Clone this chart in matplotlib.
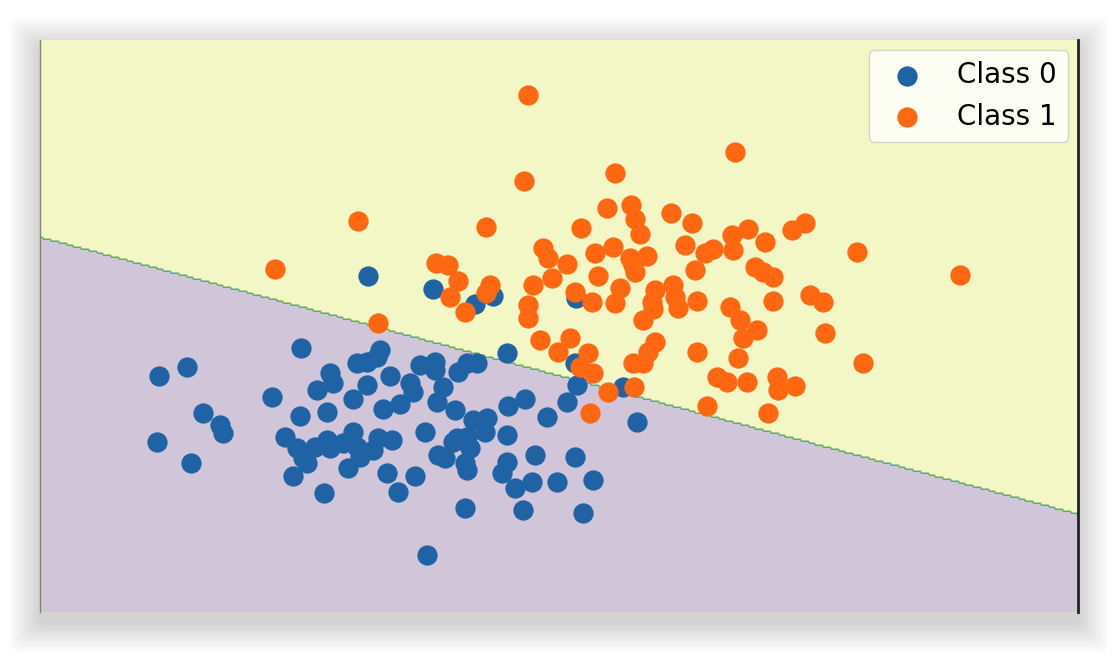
import numpy as np
import matplotlib
matplotlib.use("Agg")
import matplotlib.pyplot as plt
from matplotlib.patches import FancyBboxPatch

# points (data units)
class0_x = [3.68, 4.33, 4.75, 4.93, 5.76, 3.01, 1.59, 1.87, 2.72, 3.30, 3.33, 3.17,
            3.57, 3.67, 3.80, 3.77, 3.53, 3.67, 3.90, 4.10, 4.13, 4.00, 4.20, 3.83,
            3.27, 3.00, 2.03, 2.20, 2.23, 1.57, 1.91, 2.85, 2.97, 3.03, 3.07, 3.15,
            3.27, 3.30, 3.43, 3.53, 3.57, 3.60, 3.48, 3.78, 3.92, 3.73, 3.87, 4.15,
            3.98, 2.93, 3.24, 4.25, 4.27, 4.35, 4.35, 4.67, 4.77, 4.58, 4.43, 4.37,
            4.55, 4.73, 4.87, 4.85, 4.67, 4.57, 4.70, 4.53, 4.38, 4.45, 4.65, 4.67,
            5.07, 5.07, 5.02, 5.35, 5.15, 5.32, 5.57, 5.75, 5.93, 4.65, 5.23, 5.83,
            5.07, 5.77, 5.67, 6.37, 5.47, 5.25, 5.08, 6.23, 5.75]
class0_y = [3.76, 3.63, 3.48, 3.56, 3.54, 3.04, 2.76, 2.85, 2.55, 2.79, 2.69, 2.62,
            2.89, 2.90, 3.02, 2.95, 2.53, 2.67, 2.76, 2.69, 2.60, 2.48, 2.87, 2.43,
            2.40, 2.36, 2.39, 2.27, 2.19, 2.10, 1.89, 2.15, 2.04, 1.94, 1.89, 2.05,
            2.12, 2.04, 2.09, 2.20, 2.05, 1.95, 1.84, 2.14, 2.12, 2.02, 1.79, 1.76,
            1.60, 1.76, 1.59, 2.20, 0.97, 2.90, 2.82, 2.89, 2.89, 2.80, 2.65, 2.50,
            2.42, 2.32, 2.34, 2.20, 2.15, 2.14, 2.04, 2.10, 1.97, 1.94, 1.89, 1.82,
            2.17, 1.90, 1.79, 1.97, 1.64, 1.70, 1.70, 1.95, 1.72, 1.44, 1.42, 1.39,
            2.99, 2.67, 2.50, 2.30, 2.35, 2.53, 2.46, 2.65, 2.89]

class1_x = [5.28, 7.35, 6.15, 5.24, 3.58, 4.86, 6.07, 6.31, 6.35, 6.40, 6.71, 6.92,
            5.81, 2.75, 4.36, 4.48, 4.58, 4.90, 4.86, 4.50, 4.65, 3.78, 5.43, 5.48,
            5.67, 5.52, 5.95, 6.13, 6.30, 6.33, 6.35, 6.47, 5.98, 5.75, 5.92, 6.20,
            6.15, 6.55, 6.52, 6.73, 6.75, 6.97, 6.85, 7.05, 7.13, 6.95, 7.32, 7.33,
            7.48, 7.65, 7.55, 7.63, 7.73, 7.92, 8.05, 8.57, 7.73, 8.10, 8.23, 7.30,
            9.60, 6.53, 6.78, 6.43, 7.40, 7.57, 7.43, 8.25, 6.55, 6.48, 6.43, 6.33,
            6.97, 7.38, 8.63, 7.17, 7.27, 7.47, 7.77, 7.78, 7.95, 7.07, 7.68, 6.34,
            6.08, 5.90, 5.28, 5.28, 5.40, 5.70, 5.58, 5.88, 5.80, 5.93, 5.33]
class1_y = [5.57, 5.00, 4.79, 4.71, 4.31, 4.25, 4.44, 4.47, 4.33, 4.18, 4.39, 4.29,
            4.24, 3.83, 3.89, 3.87, 3.71, 3.67, 3.59, 3.55, 3.40, 3.29, 4.04, 3.94,
            3.88, 3.74, 3.99, 4.05, 3.94, 3.87, 3.80, 3.96, 3.76, 3.60, 3.50, 3.64,
            3.49, 3.62, 3.50, 3.67, 3.55, 3.51, 4.07, 3.99, 4.03, 3.82, 4.17, 4.02,
            4.23, 4.10, 3.85, 3.80, 3.75, 4.22, 4.29, 4.00, 3.51, 3.57, 3.50, 3.45,
            3.77, 3.43, 3.44, 3.32, 3.32, 3.22, 3.14, 3.19, 3.10, 3.00, 2.89, 2.89,
            3.00, 2.94, 2.89, 2.75, 2.70, 2.70, 2.75, 2.62, 2.66, 2.46, 2.39, 2.65,
            2.60, 2.39, 3.47, 3.34, 3.12, 3.14, 3.00, 2.99, 2.85, 2.79, 3.67]

# decision boundary: two points it passes through
boundary_x = [0.40, 10.78]
boundary_y = [4.15, 1.38]

labels = ["Class 0", "Class 1"]
colors = ["#1f63a5", "#ff6811"]

W, H = 1120, 652
fig = plt.figure(figsize=(W / 100, H / 100), dpi=100)
fig.patch.set_facecolor("white")

ax_box = [40 / W, 40 / H, 1038 / W, 572 / H]

# soft window shadow, stronger below
for i in range(22):
    pad = (i + 1) * 1.4
    r = FancyBboxPatch((ax_box[0] - pad / W, ax_box[1] - (pad + 10) / H),
                       ax_box[2] + 2 * pad / W, ax_box[3] + (2 * pad + 2) / H,
                       boxstyle="round,pad=0,rounding_size=0.01",
                       transform=fig.transFigure,
                       facecolor="black", edgecolor="none", alpha=0.009, zorder=0)
    fig.patches.append(r)

ax = fig.add_axes(ax_box, zorder=2)

x_min, x_max = 0.40, 10.78
y_min, y_max = 0.40, 6.12
xx, yy = np.meshgrid(np.arange(x_min, x_max + 0.02, 0.02),
                     np.arange(y_min, y_max + 0.02, 0.02))
slope = (boundary_y[1] - boundary_y[0]) / (boundary_x[1] - boundary_x[0])
line_y = boundary_y[0] + slope * (xx - boundary_x[0])
Z = (yy > line_y).astype(float)
ax.contourf(xx, yy, Z, alpha=0.25, cmap="viridis")

ax.scatter(class0_x, class0_y, s=185, color=colors[0], label=labels[0], zorder=3)
ax.scatter(class1_x, class1_y, s=185, color=colors[1], label=labels[1], zorder=4)

ax.set_xlim(x_min, x_max)
ax.set_ylim(y_min, y_max)
ax.set_xticks([])
ax.set_yticks([])
ax.spines["top"].set_visible(False)
ax.spines["bottom"].set_visible(False)
ax.spines["left"].set_color("#7d8a70")
ax.spines["left"].set_linewidth(1)
ax.spines["right"].set_color("#222222")
ax.spines["right"].set_linewidth(2)

ax.legend(loc="upper right", fontsize=20, borderaxespad=0.35)

fig.savefig("out.png", dpi=100, facecolor="white")
